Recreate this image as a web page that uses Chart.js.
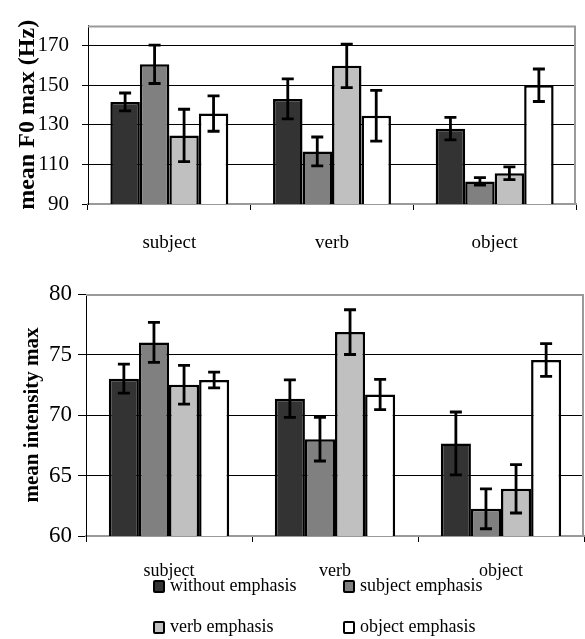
<!DOCTYPE html>
<html><head><meta charset="utf-8">
<script src="https://cdn.jsdelivr.net/npm/chart.js@4/dist/chart.umd.min.js"></script>
<style>
html,body{margin:0;padding:0;background:#fff;width:585px;height:639px;overflow:hidden;position:relative;font-family:"Liberation Serif","Times New Roman",serif}
#c1{position:absolute;left:0;top:0}
#c2{position:absolute;left:0;top:260px}
.sw{position:absolute;width:8px;height:9px;border:2px solid #000;border-radius:2px}
.lt{position:absolute;font-size:18px;line-height:20px;height:20px;white-space:nowrap;color:#000;font-family:"Liberation Serif","Times New Roman",serif}
</style>
</head><body>
<canvas id="c1" width="585" height="260"></canvas>
<canvas id="c2" width="585" height="330"></canvas>
<div id="legend"></div>
<script>
const categories = ['subject', 'verb', 'object'];
const seriesLabels = ['without emphasis', 'subject emphasis', 'verb emphasis', 'object emphasis'];
const seriesColors = ['#333333', '#808080', '#c0c0c0', '#ffffff'];

// mean F0 max (Hz)
const f0Without = [141.5, 143.0, 128.0];
const f0Subject = [160.5, 116.5, 101.4];
const f0Verb    = [124.6, 159.7, 105.5];
const f0Object  = [135.6, 134.5, 149.9];
const f0ErrWithout = [4.5, 10.1, 5.7];
const f0ErrSubject = [9.7, 7.3, 1.9];
const f0ErrVerb    = [13.2, 11.0, 3.2];
const f0ErrObject  = [8.9, 12.8, 8.2];
const f0Ticks = [90, 110, 130, 150, 170];

// mean intensity max
const intWithout = [73.0, 71.35, 67.65];
const intSubject = [76.0, 68.0, 62.25];
const intVerb    = [72.5, 76.85, 63.9];
const intObject  = [72.9, 71.7, 74.55];
const intErrWithout = [1.2, 1.55, 2.6];
const intErrSubject = [1.65, 1.8, 1.65];
const intErrVerb    = [1.6, 1.85, 2.0];
const intErrObject  = [0.65, 1.25, 1.35];
const intTicks = [60, 65, 70, 75, 80];

const FONT = '"Liberation Serif", "Times New Roman", serif';

const errorBars = {
  id: 'errorBars',
  afterDatasetsDraw(chart) {
    const ctx = chart.ctx, y = chart.scales.y;
    ctx.save();
    ctx.strokeStyle = '#000';
    ctx.lineWidth = 2.8;
    chart.data.datasets.forEach((ds, i) => {
      const meta = chart.getDatasetMeta(i);
      meta.data.forEach((bar, j) => {
        const v = ds.data[j], e = ds.errors[j];
        const yt = y.getPixelForValue(v + e), yb = y.getPixelForValue(v - e);
        const x = bar.x, hw = 6;
        ctx.beginPath();
        ctx.moveTo(x, yt); ctx.lineTo(x, yb);
        ctx.moveTo(x - hw, yt); ctx.lineTo(x + hw, yt);
        ctx.moveTo(x - hw, yb); ctx.lineTo(x + hw, yb);
        ctx.stroke();
      });
    });
    ctx.restore();
  }
};

const frame = {
  id: 'frame',
  beforeDatasetsDraw(chart) {
    const a = chart.chartArea, ctx = chart.ctx;
    ctx.save();
    ctx.strokeStyle = '#9a9a9a';
    ctx.lineWidth = 2;
    ctx.beginPath();
    ctx.moveTo(a.left, a.top + 1);
    ctx.lineTo(a.right - 1, a.top + 1);
    ctx.lineTo(a.right - 1, a.bottom);
    ctx.stroke();
    ctx.restore();
  }
};

function makeDatasets(vals, errs) {
  return vals.map((d, i) => ({
    label: seriesLabels[i],
    data: d,
    errors: errs[i],
    backgroundColor: seriesColors[i],
    borderColor: '#000',
    borderWidth: 2.5,
    borderSkipped: false,
    barPercentage: 1.0,
    categoryPercentage: 0.725
  }));
}

function makeChart(id, o) {
  return new Chart(document.getElementById(id), {
    type: 'bar',
    data: { labels: categories, datasets: makeDatasets(o.vals, o.errs) },
    plugins: [frame, errorBars],
    options: {
      responsive: false,
      animation: false,
      devicePixelRatio: 1,
      layout: { padding: o.padding },
      plugins: { legend: { display: false }, tooltip: { enabled: false } },
      scales: {
        x: {
          grid: { offset: true, drawOnChartArea: false, drawTicks: true, tickLength: 6, tickColor: '#000', lineWidth: 1 },
          border: { color: '#9a9a9a', width: 2 },
          ticks: { color: '#000', font: { family: FONT, size: o.catSize }, padding: o.catPad, maxRotation: 0 },
          afterFit: s => { s.height = o.xHeight; }
        },
        y: {
          min: o.min, max: o.max,
          afterBuildTicks: s => { s.ticks = o.ticks.map(v => ({ value: v })); },
          grid: {
            color: c => (c.tick && (c.tick.value === o.min || c.tick.value === o.max)) ? 'rgba(0,0,0,0)' : '#000',
            tickColor: '#000', lineWidth: 1, tickLength: o.tickLen, drawTicks: true
          },
          border: { color: '#000', width: 1 },
          ticks: { color: '#000', font: { family: FONT, size: o.tickSize }, padding: o.tickPad },
          title: { display: true, text: o.title, color: '#000', font: { family: FONT, size: o.titleSize, weight: 'bold' }, padding: { top: o.titlePad, bottom: 0 } },
          afterFit: s => { s.width = o.yWidth; }
        }
      }
    }
  });
}

makeChart('c1', {
  vals: [f0Without, f0Subject, f0Verb, f0Object],
  errs: [f0ErrWithout, f0ErrSubject, f0ErrVerb, f0ErrObject],
  padding: { left: 0, right: 9, top: 5, bottom: 0 },
  min: 90, max: 180, ticks: f0Ticks,
  title: 'mean F0 max (Hz)', titleSize: 24, titlePad: 13,
  tickSize: 21, tickPad: 13, tickLen: 6,
  catSize: 19, catPad: 22,
  xHeight: 56, yWidth: 88
});

makeChart('c2', {
  vals: [intWithout, intSubject, intVerb, intObject],
  errs: [intErrWithout, intErrSubject, intErrVerb, intErrObject],
  padding: { left: 0, right: 1, top: 34, bottom: 0 },
  min: 60, max: 80, ticks: intTicks,
  title: 'mean intensity max', titleSize: 21, titlePad: 20,
  tickSize: 23, tickPad: 6, tickLen: 8,
  catSize: 18, catPad: 18,
  xHeight: 54, yWidth: 86
});

// legend (HTML, 2 x 2)
const legendCols = [153, 343];
const legendRows = [586, 627];
const lg = document.getElementById('legend');
seriesLabels.forEach((lab, i) => {
  const x = legendCols[i % 2], y = legendRows[Math.floor(i / 2)];
  const sw = document.createElement('div');
  sw.className = 'sw';
  sw.style.left = x + 'px';
  sw.style.top = (y - 6.5) + 'px';
  sw.style.background = seriesColors[i];
  lg.appendChild(sw);
  const t = document.createElement('div');
  t.className = 'lt';
  t.textContent = lab;
  t.style.left = (x + 17) + 'px';
  t.style.top = (y - 11) + 'px';
  lg.appendChild(t);
});
</script>
</body></html>
